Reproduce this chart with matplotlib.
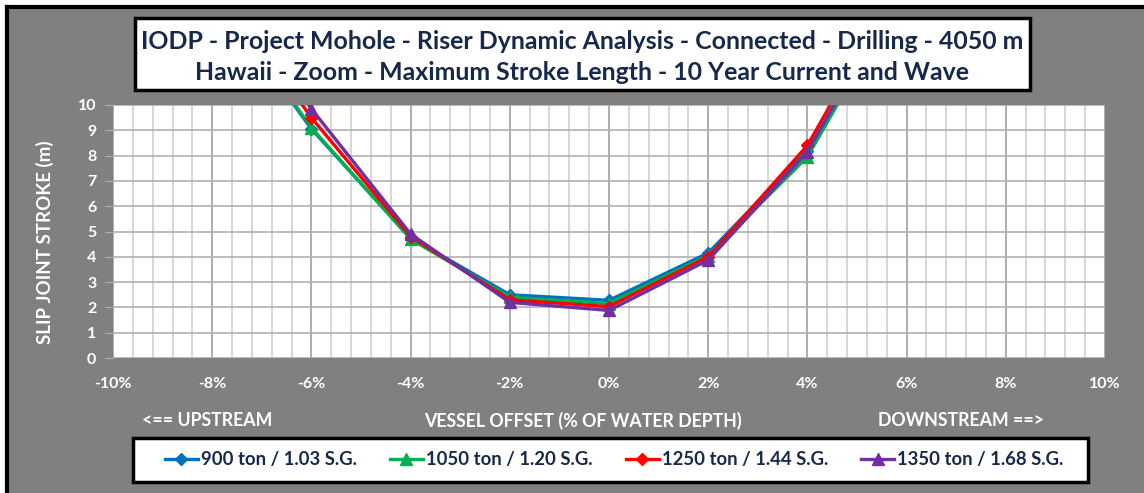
"""
Slip joint stroke vs vessel offset, Mohole riser dynamic analysis (Hawaii, zoom).
"""

import matplotlib.pyplot as plt
from matplotlib.patches import Rectangle
from matplotlib.ticker import MultipleLocator, FuncFormatter

# =====================================================================
# DATA
# =====================================================================
offset_pct = [-8, -6, -4, -2, 0, 2, 4, 6]

stroke_900 = [14.5, 9.05, 4.75, 2.5, 2.28, 4.15, 8.2, 14.6]
stroke_1050 = [14.6, 9.1, 4.7, 2.4, 2.15, 4.05, 7.95, 14.8]
stroke_1250 = [15.0, 9.5, 4.8, 2.3, 2.03, 4.0, 8.4, 15.3]
stroke_1350 = [15.3, 9.85, 4.9, 2.2, 1.88, 3.87, 8.15, 15.0]

series_labels = ["900 ton / 1.03 S.G.", "1050 ton / 1.20 S.G.",
                 "1250 ton / 1.44 S.G.", "1350 ton / 1.68 S.G."]

TITLE = ("IODP - Project Mohole - Riser Dynamic Analysis - Connected - Drilling - 4050 m\n"
         "Hawaii - Zoom - Maximum Stroke Length - 10 Year Current and Wave")
# =====================================================================

BG = "#808080"
NAVY = "#17294A"
FONT = "Lato"

fig = plt.figure(figsize=(11.44, 4.93), dpi=100)
fig.patch.set_facecolor("white")

# gray chart area with black edge on left/top
fig.patches.append(Rectangle((5 / 1144, 0), 1.0, 1 - 5 / 493, transform=fig.transFigure,
                             facecolor=BG, edgecolor="none", zorder=0))
fig.add_artist(plt.Line2D([6.5 / 1144, 6.5 / 1144], [0, 1 - 6.5 / 493], color="black",
                          linewidth=3, transform=fig.transFigure, zorder=1))
fig.add_artist(plt.Line2D([6.5 / 1144, 1], [1 - 7 / 493, 1 - 7 / 493], color="black",
                          linewidth=3, transform=fig.transFigure, zorder=1))

ax = fig.add_axes([113 / 1144, 1 - 358 / 493, (1105 - 113) / 1144, (358 - 105) / 493])
ax.set_zorder(2)
ax.set_facecolor("white")

styles = [
    (stroke_900, "#0070C0", "D", 6),
    (stroke_1050, "#00B050", "^", 9),
    (stroke_1250, "#FF0000", "D", 6),
    (stroke_1350, "#7030A0", "^", 9),
]
for (vals, color, marker, ms), label in zip(styles, series_labels):
    ax.plot(offset_pct, vals, color=color, marker=marker, markersize=ms,
            linewidth=2.4, label=label, clip_on=True, zorder=3)

ax.set_xlim(-10, 10)
ax.set_ylim(0, 10)
ax.xaxis.set_major_locator(MultipleLocator(2))
ax.xaxis.set_minor_locator(MultipleLocator(0.4))
ax.yaxis.set_major_locator(MultipleLocator(1))
ax.xaxis.set_major_formatter(FuncFormatter(lambda v, p: f"{v:.0f}%"))

ax.grid(True, which="major", axis="x", color="#A0A0A0", linewidth=1.2)
ax.grid(True, which="minor", axis="x", color="#D0D0D0", linewidth=1.2)
ax.grid(True, which="major", axis="y", color="#B0B0B0", linewidth=1.2)
ax.set_axisbelow(True)
for s in ax.spines.values():
    s.set_visible(False)

ax.tick_params(axis="x", which="both", length=0, pad=14)
ax.tick_params(axis="y", which="major", length=6, color="#B0B0B0", pad=6)
for lab in ax.get_xticklabels() + ax.get_yticklabels():
    lab.set_color("white")
    lab.set_fontweight("bold")
    lab.set_fontsize(11.5)
    lab.set_family(FONT)

fig.text(45 / 1144, 1 - 242 / 493, "SLIP JOINT STROKE (m)", rotation=90, color="white",
         fontweight="bold", fontsize=13.5, family=FONT, ha="center", va="center")

fig.text(207 / 1144, 1 - 421 / 493, "<== UPSTREAM", color="white", fontweight="bold",
         fontsize=12.8, family=FONT, ha="center", va="center")
fig.text(583 / 1144, 1 - 421 / 493, "VESSEL OFFSET (% OF WATER DEPTH)", color="white",
         fontweight="bold", fontsize=12.8, family=FONT, ha="center", va="center")
fig.text(961 / 1144, 1 - 421 / 493, "DOWNSTREAM ==>", color="white", fontweight="bold",
         fontsize=12.8, family=FONT, ha="center", va="center")

# title box
fig.patches.append(Rectangle((135 / 1144, 1 - 90 / 493), (1030 - 135) / 1144, (90 - 18) / 493,
                             transform=fig.transFigure, facecolor="white", edgecolor="black",
                             linewidth=2.5, zorder=1))
fig.text(582 / 1144, 1 - 57 / 493, TITLE, color=NAVY, fontweight="bold", fontsize=17.9,
         family=FONT, ha="center", va="center", linespacing=1.45, zorder=2)

# legend box
fig.patches.append(Rectangle((133 / 1144, 1 - 482 / 493), (1088 - 133) / 1144, (482 - 438) / 493,
                             transform=fig.transFigure, facecolor="white", edgecolor="black",
                             linewidth=2.5, zorder=1))
handles, labels = ax.get_legend_handles_labels()
leg = fig.legend(handles, labels, loc="center", bbox_to_anchor=(614 / 1144, 1 - 460 / 493),
                 ncol=4, frameon=False, handlelength=1.8, handletextpad=0.15,
                 columnspacing=1.8, prop={"family": FONT, "weight": "bold", "size": 13.3})
for t in leg.get_texts():
    t.set_color(NAVY)
leg.set_zorder(5)

fig.savefig("out.png", dpi=100, facecolor=fig.get_facecolor())
